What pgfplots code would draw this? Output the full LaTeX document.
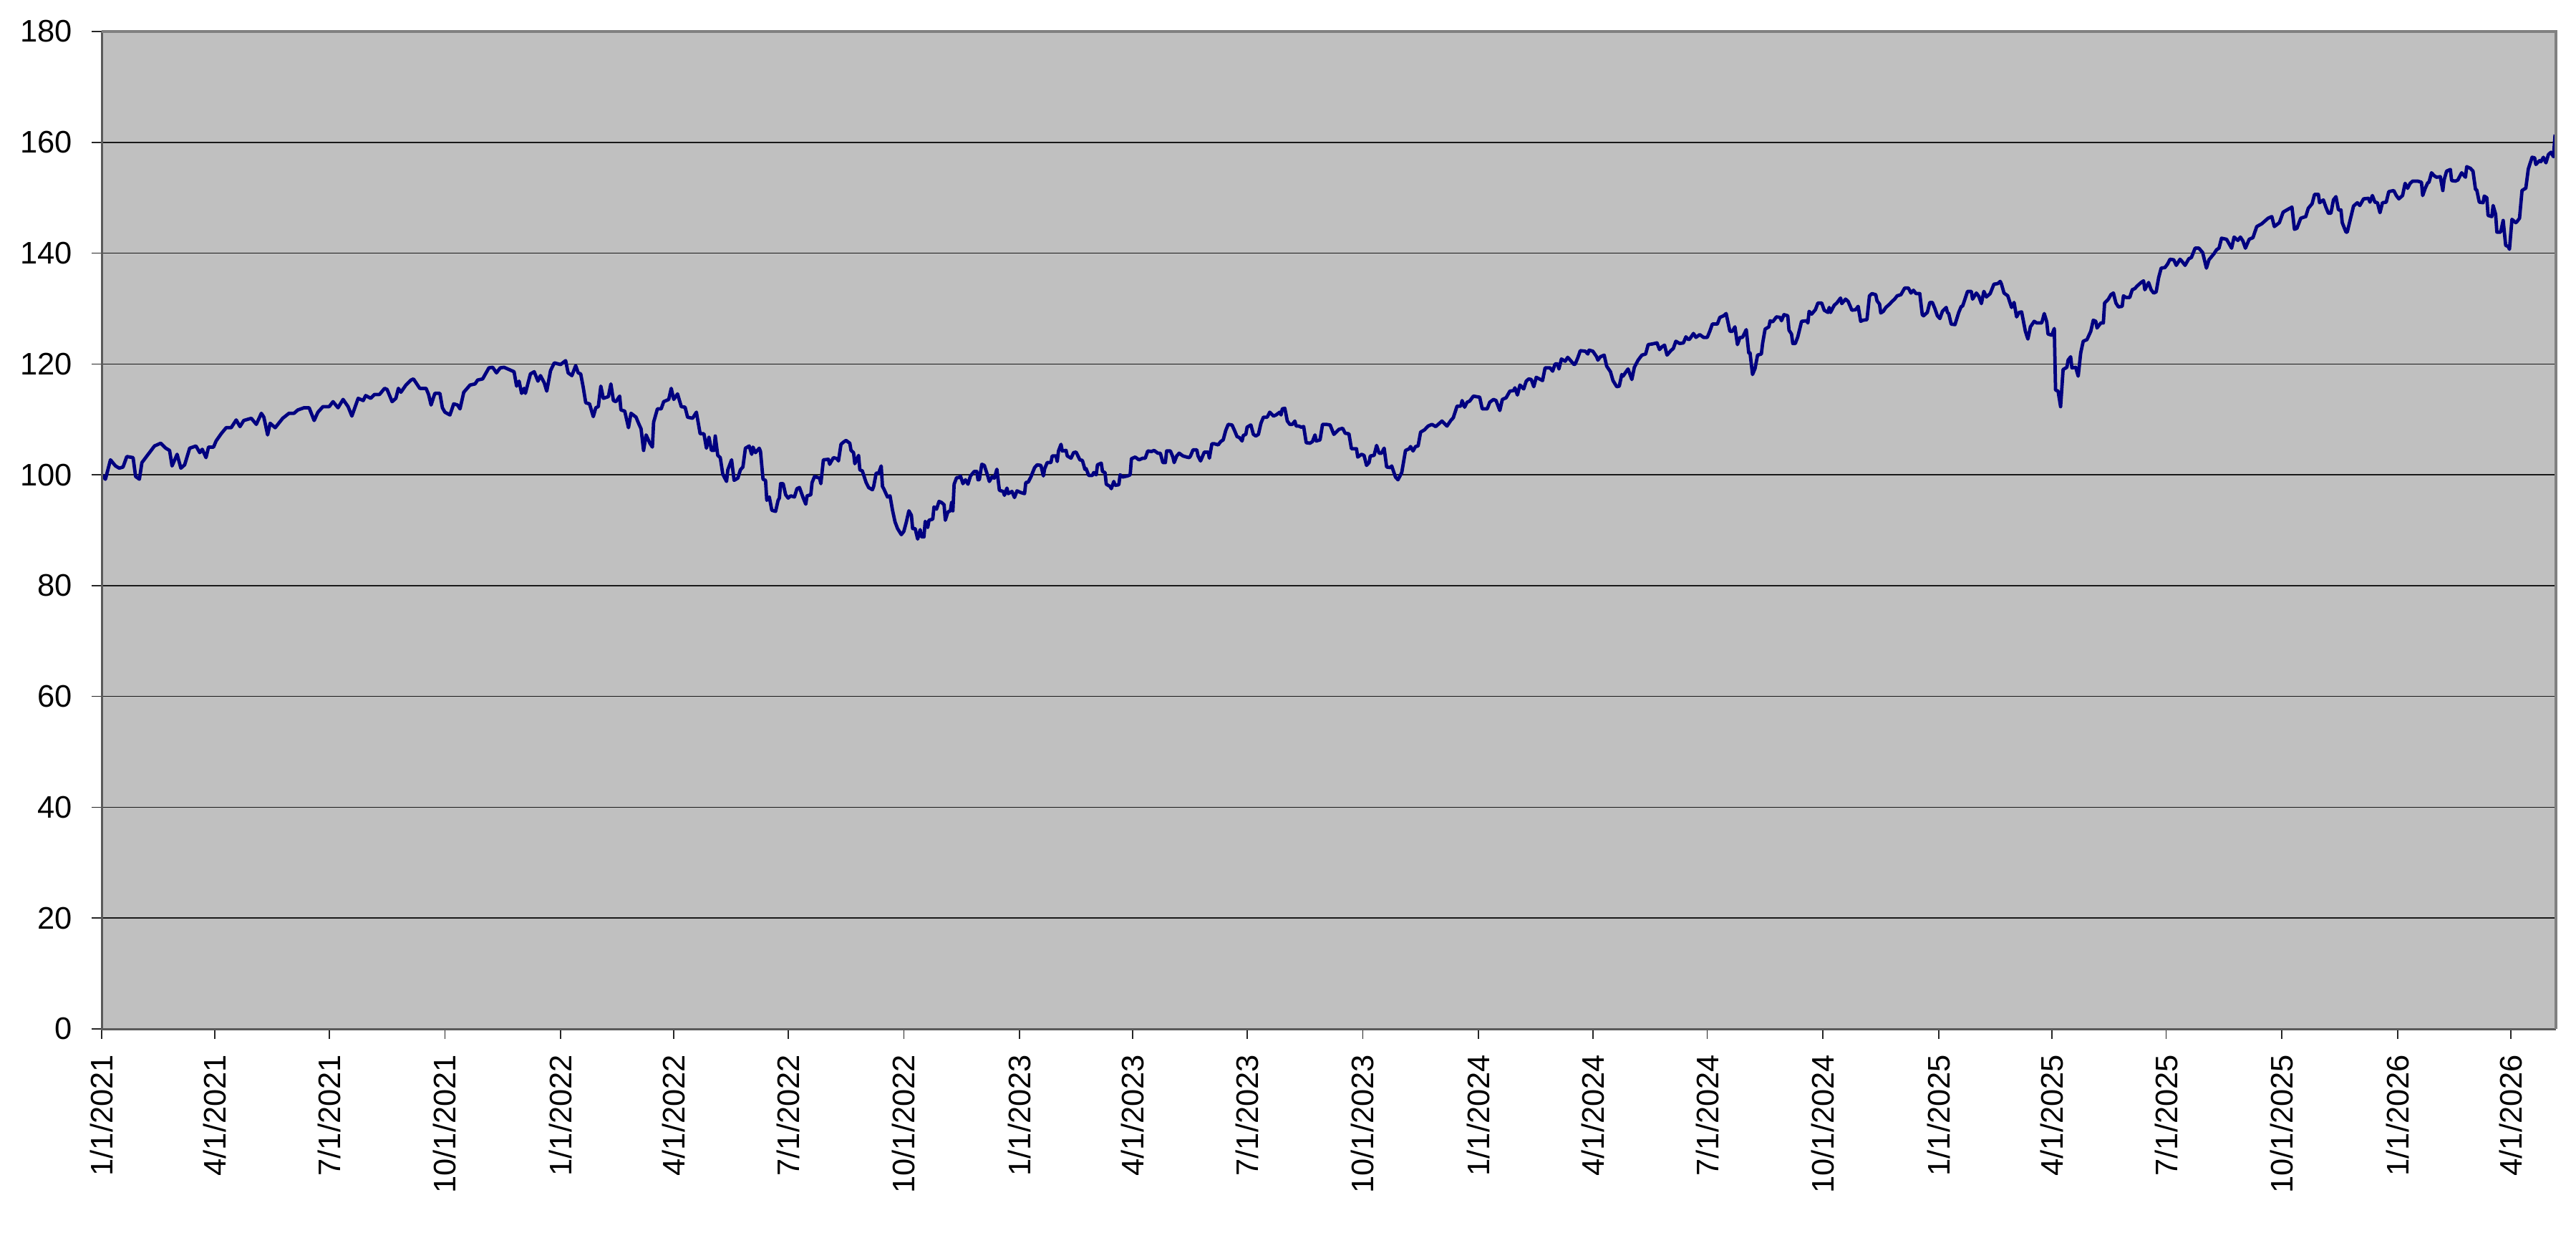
\documentclass[border=0pt]{standalone}
\usepackage{fontspec}
\setmainfont{Liberation Sans}
\usepackage{pgfplots}
\usepackage{pgfplotstable}
\pgfplotsset{compat=1.18}
\definecolor{plotbg}{HTML}{C0C0C0}
\definecolor{navyline}{HTML}{000080}
\definecolor{bordergray}{HTML}{808080}
\definecolor{borderdark}{HTML}{5A5A5A}

\pgfplotstableread{
day val
0 100.0
3 99.2
7 102.7
11 101.6
14 101.2
17 101.4
20 103.3
25 103.1
27 99.7
30 99.2
32 102.2
37 103.7
42 105.2
47 105.7
51 104.8
54 104.4
56 101.6
60 103.7
63 101.2
66 101.8
70 104.8
75 105.2
78 104.0
80 104.6
83 103.1
85 105.0
89 105.0
91 106.1
95 107.4
99 108.5
103 108.5
107 109.9
110 108.7
113 109.8
119 110.2
123 109.1
127 111.1
129 110.4
132 107.2
134 109.3
138 108.5
144 110.2
149 111.1
153 111.1
156 111.7
161 112.1
165 112.1
169 109.8
172 111.3
176 112.3
181 112.3
184 113.2
188 112.1
192 113.6
196 112.3
199 110.6
204 113.8
208 113.4
210 114.3
214 113.8
217 114.5
221 114.5
225 115.6
227 115.4
231 113.2
234 113.8
236 115.6
238 114.9
242 116.2
246 117.1
248 117.3
253 115.6
258 115.6
260 114.5
262 112.6
265 114.7
269 114.7
271 112.1
273 111.3
277 110.8
280 112.8
283 112.6
285 111.9
288 114.9
293 116.2
297 116.4
299 117.1
303 117.3
308 119.3
311 119.4
314 118.4
317 119.3
320 119.4
324 119.0
328 118.6
330 116.0
332 116.9
334 114.7
336 115.6
337 114.7
341 118.2
344 118.6
347 116.9
349 117.9
352 116.6
354 115.1
357 118.8
360 120.2
365 119.9
369 120.6
371 118.4
374 117.9
377 119.7
379 118.4
381 118.2
383 115.8
385 113.0
388 112.8
391 110.5
393 112.1
395 112.3
397 116.0
399 113.8
403 114.1
405 116.4
407 113.4
409 113.2
412 114.2
413 111.7
416 111.5
419 108.5
421 111.1
425 110.4
427 109.3
429 108.3
431 104.4
433 107.2
436 105.7
438 105.0
439 109.5
442 111.9
445 111.9
447 113.2
451 113.6
453 115.6
455 113.6
458 114.6
461 112.3
464 112.2
466 110.4
470 110.2
473 111.3
474 110.0
476 107.4
479 107.4
481 104.8
483 106.8
485 104.4
487 104.4
488 107.0
490 103.5
492 103.1
494 100.1
497 98.8
498 100.9
501 102.7
503 99.0
506 99.4
508 100.9
510 101.4
512 104.8
515 105.2
517 103.7
518 105.0
520 104.0
523 104.8
524 104.2
526 99.2
528 99.0
529 95.4
531 96.0
533 93.6
536 93.4
538 95.4
539 95.8
540 98.4
542 98.4
544 96.4
546 95.8
548 96.2
551 96.0
553 97.5
555 97.7
558 95.8
560 94.7
561 96.2
564 96.4
565 98.6
567 99.7
571 99.4
572 98.4
574 102.7
578 102.8
579 101.9
582 103.1
585 102.9
586 102.5
588 105.5
590 105.9
592 106.2
595 105.7
596 104.4
598 104.0
599 102.0
602 103.5
603 100.9
605 100.7
608 98.6
610 97.7
613 97.3
614 97.9
616 100.3
618 100.3
620 101.6
621 97.9
622 97.5
625 96.0
627 96.2
629 93.6
631 91.5
633 90.3
636 89.2
638 89.8
640 91.5
642 93.5
644 92.7
645 90.3
647 90.3
649 88.4
651 90.1
652 88.8
654 88.8
655 91.6
657 90.5
658 91.8
661 92.0
662 94.2
664 93.8
666 95.2
668 95.0
670 94.6
671 91.8
673 93.3
675 93.5
676 95.0
677 93.5
678 98.3
680 99.5
682 99.5
683 99.8
685 98.4
687 99.1
689 98.3
691 99.8
694 100.6
696 100.6
697 99.1
698 99.1
700 101.9
702 101.7
705 99.6
706 98.8
708 99.6
710 99.4
712 101.0
714 97.2
717 97.0
718 96.3
720 97.6
721 96.6
724 97.0
726 95.9
728 97.1
731 96.8
734 96.6
735 98.6
737 98.7
739 99.6
742 101.3
744 101.8
747 101.7
749 99.8
750 101.1
752 102.2
755 102.2
756 103.4
759 103.4
760 102.4
761 104.3
763 105.5
764 104.3
767 104.4
768 103.4
771 103.0
773 104.0
775 104.1
778 102.7
780 102.6
782 101.0
783 101.1
785 99.9
788 99.9
789 100.4
791 100.0
792 101.8
795 102.1
796 100.6
798 100.4
799 98.3
802 97.9
803 97.5
805 98.8
806 98.1
809 98.2
810 100.0
812 99.6
816 99.8
818 100.0
819 102.9
822 103.2
825 102.7
828 103.0
830 103.0
832 104.3
835 104.2
837 104.4
840 103.9
842 103.9
844 102.2
846 102.2
847 104.3
850 104.3
852 103.2
853 102.2
855 103.4
857 103.9
860 103.4
863 103.2
865 103.1
866 103.4
868 104.5
871 104.5
872 103.4
874 102.5
877 104.1
880 104.1
881 103.0
883 105.6
885 105.6
888 105.4
890 106.0
892 106.3
894 108.0
896 109.1
899 109.0
901 108.0
903 106.9
905 106.7
907 106.1
908 107.1
910 107.3
911 108.6
914 109.0
916 107.3
918 107.0
920 107.3
922 109.3
924 110.4
927 110.4
929 111.3
932 110.6
934 110.8
937 111.3
938 110.8
939 111.9
941 112.0
943 109.7
945 109.1
947 109.1
949 109.7
950 108.8
952 108.8
954 108.6
956 108.7
958 105.8
961 105.7
963 106.0
965 107.2
966 106.1
969 106.3
971 109.1
974 109.1
977 109.0
980 107.3
984 108.2
987 108.4
989 107.5
992 107.4
994 104.7
998 104.7
999 103.2
1002 103.7
1004 103.5
1006 101.7
1008 102.2
1009 103.4
1012 103.5
1014 105.3
1016 103.9
1018 103.9
1020 104.8
1022 101.4
1025 101.3
1026 101.6
1029 99.6
1031 99.1
1034 100.4
1037 104.4
1040 104.7
1041 105.1
1043 104.3
1045 105.1
1047 105.2
1049 107.7
1052 108.1
1055 108.8
1058 109.1
1061 108.7
1066 109.7
1070 108.8
1073 109.8
1075 110.3
1078 112.4
1081 112.4
1082 113.4
1084 112.2
1086 113.1
1088 113.3
1091 114.2
1096 114.0
1098 111.9
1102 111.9
1104 113.1
1107 113.6
1109 113.4
1112 111.6
1114 113.6
1117 113.9
1120 115.1
1123 115.2
1124 115.7
1126 114.4
1128 116.2
1131 115.5
1133 116.9
1135 117.3
1137 117.2
1139 115.9
1141 117.6
1146 117.0
1148 119.3
1152 119.3
1154 118.7
1156 120.0
1158 120.0
1159 119.1
1161 120.9
1164 120.5
1166 121.2
1168 120.7
1171 119.9
1172 120.0
1174 121.1
1176 122.4
1180 122.3
1182 121.8
1183 122.5
1186 122.3
1189 121.3
1190 120.7
1192 121.3
1195 121.6
1197 119.6
1200 118.6
1202 117.0
1205 115.9
1207 116.0
1209 118.1
1210 117.8
1213 118.8
1214 119.1
1217 117.2
1219 119.4
1222 120.7
1225 121.6
1228 121.8
1230 123.5
1233 123.6
1237 123.8
1239 122.6
1241 123.1
1243 123.4
1245 121.6
1248 122.4
1250 122.8
1252 124.1
1255 123.7
1258 123.8
1260 124.9
1262 124.4
1263 124.5
1266 125.5
1268 124.8
1271 125.3
1274 124.8
1277 124.8
1279 125.9
1281 127.2
1285 127.2
1287 128.4
1290 128.7
1292 129.1
1295 125.9
1297 125.9
1299 126.7
1301 123.5
1303 124.8
1305 124.8
1308 126.2
1310 122.0
1311 122.0
1313 118.1
1315 119.2
1317 121.6
1320 121.8
1321 123.7
1323 126.3
1326 126.7
1327 127.8
1329 127.6
1332 128.5
1335 128.4
1336 127.8
1338 128.9
1341 128.7
1342 126.1
1344 125.4
1345 123.7
1347 123.7
1349 124.9
1352 127.7
1356 127.8
1357 127.4
1358 129.5
1360 129.0
1363 129.8
1365 131.0
1368 131.0
1370 129.7
1373 129.3
1374 130.2
1375 129.3
1378 130.6
1380 131.0
1383 131.9
1384 130.9
1387 131.7
1389 131.3
1392 129.7
1395 129.8
1397 130.4
1399 127.7
1401 127.9
1404 128.0
1406 132.3
1408 132.7
1411 132.5
1412 131.4
1414 130.8
1415 129.2
1417 129.5
1419 130.2
1422 130.8
1424 131.3
1426 131.7
1428 132.3
1431 132.5
1434 133.7
1437 133.7
1439 132.8
1441 133.3
1443 132.7
1446 132.7
1448 128.9
1449 128.7
1452 129.3
1454 131.1
1456 131.1
1458 130.0
1460 128.7
1462 128.2
1464 129.5
1467 130.2
1468 129.3
1469 129.1
1471 127.2
1474 127.1
1477 129.3
1479 130.4
1480 130.4
1484 133.1
1487 133.1
1488 131.7
1491 132.8
1493 132.2
1495 130.9
1497 133.1
1499 132.1
1502 132.7
1505 134.4
1508 134.5
1510 134.9
1511 134.4
1513 132.8
1516 132.3
1517 131.6
1519 130.2
1521 131.1
1523 128.5
1525 129.3
1527 129.4
1530 125.9
1532 124.5
1534 126.7
1537 127.7
1539 127.4
1541 127.4
1543 127.4
1545 129.1
1547 127.6
1548 125.4
1551 125.2
1553 126.4
1554 115.3
1556 115.1
1558 112.3
1560 119.0
1563 119.4
1564 120.7
1566 121.3
1567 119.3
1570 119.4
1572 117.8
1574 122.0
1576 124.1
1579 124.4
1581 125.4
1582 125.9
1584 127.9
1586 127.7
1587 126.5
1590 127.4
1592 127.4
1593 131.0
1596 131.7
1598 132.5
1600 132.8
1602 131.0
1604 130.3
1607 130.4
1608 132.3
1610 132.0
1613 132.0
1615 133.4
1617 133.6
1619 134.1
1622 134.7
1624 135.0
1625 133.4
1628 134.7
1630 133.4
1632 132.8
1634 133.0
1636 135.6
1638 137.3
1641 137.4
1643 138.0
1645 138.9
1648 138.8
1650 137.8
1653 138.9
1655 138.4
1657 137.8
1660 139.0
1662 139.2
1665 140.9
1668 140.9
1671 140.1
1674 137.3
1676 138.8
1680 139.9
1682 140.6
1684 140.9
1686 142.7
1690 142.5
1694 140.9
1696 142.9
1699 142.3
1701 142.9
1703 142.2
1705 140.9
1708 142.5
1711 142.8
1714 144.8
1718 145.3
1720 145.7
1723 146.3
1726 146.6
1728 144.8
1732 145.5
1735 147.4
1738 147.8
1742 148.3
1744 144.3
1746 144.5
1749 146.3
1753 146.6
1755 148.1
1758 148.9
1760 150.6
1763 150.6
1764 149.1
1767 149.6
1769 148.3
1771 147.2
1773 147.2
1775 149.6
1777 150.2
1779 147.8
1781 147.8
1782 145.5
1785 143.8
1786 143.8
1788 145.7
1791 148.5
1794 149.1
1796 148.6
1799 149.8
1803 149.9
1804 149.2
1806 150.4
1808 149.2
1810 149.1
1812 147.3
1814 149.1
1817 149.2
1819 151.1
1823 151.3
1825 150.4
1827 149.8
1830 150.4
1832 152.6
1834 151.7
1836 152.6
1838 153.0
1842 153.0
1845 152.8
1846 150.4
1848 151.7
1850 152.7
1851 152.8
1853 154.5
1855 154.0
1857 153.7
1860 153.8
1862 151.3
1863 153.2
1865 154.8
1868 155.1
1869 153.1
1872 153.0
1874 153.2
1876 154.1
1877 154.5
1880 153.7
1881 155.6
1884 155.3
1886 154.8
1888 151.5
1889 151.4
1891 149.2
1894 149.1
1895 150.3
1897 150.0
1898 146.8
1901 146.6
1902 148.6
1904 147.0
1905 143.8
1908 143.8
1910 145.9
1912 141.4
1914 141.2
1915 140.7
1917 146.1
1920 145.5
1921 145.7
1923 146.3
1925 151.3
1927 151.6
1928 151.7
1930 155.2
1933 157.3
1935 157.2
1936 156.0
1939 156.7
1940 156.5
1942 157.3
1944 156.3
1946 157.8
1948 158.2
1950 157.4
1951.3 161.4
}\series

\begin{document}
\fontsize{8.7}{10}\selectfont
\begin{tikzpicture}
\begin{axis}[
  name=ax,
  at={(0,0)}, anchor=south west,
  scale only axis,
  width=685.6pt, height=278.6pt,
  xmin=0, xmax=1952,
  ymin=0, ymax=180,
  ytick={0,20,...,180},
  xtick={0,90,181,273,365,455,546,638,730,820,911,1003,1095,1186,1277,1369,1461,1551,1642,1734,1826,1916},
  xticklabels={1/1/2021,4/1/2021,7/1/2021,10/1/2021,1/1/2022,4/1/2022,7/1/2022,10/1/2022,1/1/2023,4/1/2023,7/1/2023,10/1/2023,1/1/2024,4/1/2024,7/1/2024,10/1/2024,1/1/2025,4/1/2025,7/1/2025,10/1/2025,1/1/2026,4/1/2026},
  tick pos=left,
  tick align=outside,
  major tick length=2.8pt,
  major tick style={black!85, line width=0.3pt},
  ymajorgrids,
  major grid style={black!90, line width=0.3pt},
  axis line style={draw=none},
  axis background/.style={fill=plotbg},
  /pgf/number format/assume math mode=true,
  yticklabel style={font=\fontsize{8.7}{10}\selectfont, inner sep=0pt, xshift=-5.2pt},
  xticklabel style={font=\fontsize{8.7}{10}\selectfont, rotate=90, anchor=east, inner sep=0pt, xshift=0pt},
  xticklabel shift=4.2pt,
]
\addplot[navyline, line width=0.95pt, line join=round] table[x=day, y=val] {\series};
\end{axis}
\draw[borderdark, line width=0.6pt] (ax.north west) -- (ax.south west) -- (ax.south east);
\draw[bordergray, line width=0.9pt] (ax.north west) -- (ax.north east) -- (ax.south east);
\pgfresetboundingbox
\path[use as bounding box] ([shift={(-28.4pt,-58.2pt)}]ax.south west) rectangle ([shift={(5.6pt,8.8pt)}]ax.north east);
\end{tikzpicture}
\end{document}
